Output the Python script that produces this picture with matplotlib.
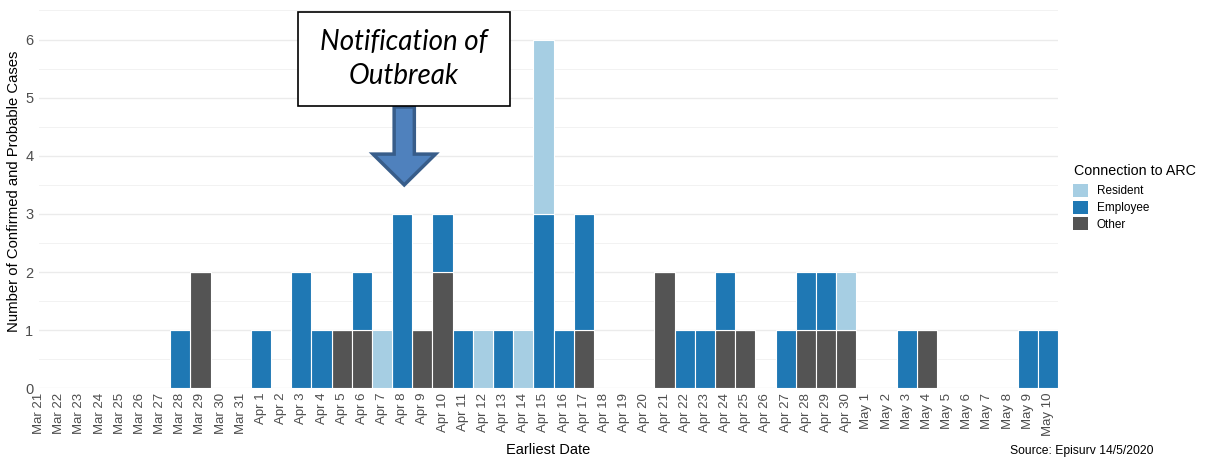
import matplotlib
matplotlib.use("Agg")
import matplotlib.pyplot as plt
from matplotlib.patches import Rectangle, FancyArrow, Patch
import numpy as np

plt.rcParams['font.family'] = ['Liberation Sans', 'DejaVu Sans']

dates = (["Mar %d" % d for d in range(21, 32)] +
         ["Apr %d" % d for d in range(1, 31)] +
         ["May %d" % d for d in range(1, 11)])

other_days = {"Mar 29": 2, "Apr 5": 1, "Apr 6": 1, "Apr 9": 1, "Apr 10": 2, "Apr 17": 1,
              "Apr 21": 2, "Apr 24": 1, "Apr 25": 1, "Apr 28": 1, "Apr 29": 1, "Apr 30": 1,
              "May 4": 1}
employee_days = {"Mar 28": 1, "Apr 1": 1, "Apr 3": 2, "Apr 4": 1, "Apr 6": 1, "Apr 8": 3,
                 "Apr 10": 1, "Apr 11": 1, "Apr 13": 1, "Apr 15": 3, "Apr 16": 1, "Apr 17": 2,
                 "Apr 22": 1, "Apr 23": 1, "Apr 24": 1, "Apr 27": 1, "Apr 28": 1, "Apr 29": 1,
                 "May 3": 1, "May 9": 1, "May 10": 1}
resident_days = {"Apr 7": 1, "Apr 12": 1, "Apr 14": 1, "Apr 15": 3, "Apr 30": 1}

other = np.array([other_days.get(d, 0) for d in dates])
employee = np.array([employee_days.get(d, 0) for d in dates])
resident = np.array([resident_days.get(d, 0) for d in dates])

c_res, c_emp, c_oth = "#a6cee3", "#1f78b4", "#545454"

fig = plt.figure(figsize=(12.07, 4.61), dpi=100)
ax = fig.add_axes([0.0323, 0.1573, 0.8443, 0.8226])
x = np.arange(len(dates))
kw = dict(width=1.0, edgecolor="white", linewidth=0.8, zorder=3)
ax.bar(x, other, color=c_oth, **kw)
ax.bar(x, employee, bottom=other, color=c_emp, **kw)
ax.bar(x, resident, bottom=other + employee, color=c_res, **kw)

ax.set_xlim(0.0, len(dates) - 0.5)
ax.set_ylim(0, 6.52)
ax.set_yticks(range(0, 7))
ax.set_yticks(np.arange(0.5, 7, 1.0), minor=True)
ax.grid(axis="y", which="major", color="#ebebeb", lw=1.0, zorder=0)
ax.grid(axis="y", which="minor", color="#f2f2f2", lw=0.7, zorder=0)
ax.set_xticks(x)
ax.set_xticklabels(dates, rotation=90, fontsize=9.5, color="#4d4d4d")
ax.tick_params(axis="both", which="both", length=0, pad=3)
ax.tick_params(axis="y", labelsize=10.5, labelcolor="#4d4d4d", pad=4)
for s in ax.spines.values():
    s.set_visible(False)

ax.set_ylabel("Number of Confirmed and Probable Cases", fontsize=10.7, labelpad=4)
ax.yaxis.set_label_coords(-0.018, 0.52)
fig.text(0.454, 0.008, "Earliest Date", fontsize=10.5, ha="center", va="bottom")
fig.text(0.9553, 0.008, "Source: Episurv 14/5/2020", fontsize=8.7, ha="right", va="bottom")

# annotation box and arrow
ax.add_patch(Rectangle((12.83, 4.85), 10.51, 1.62, facecolor="white", edgecolor="black",
                       lw=1.2, zorder=5))
ax.text(18.09, 5.66, "Notification of\nOutbreak", ha="center", va="center",
        fontsize=20, style="italic", family=["Lato", "DejaVu Sans"], linespacing=1.4, zorder=6)
ax.add_patch(FancyArrow(18.1, 4.84, 0, -(4.84 - 3.5), width=1.0, head_width=3.1,
                        head_length=0.53, length_includes_head=True,
                        facecolor="#4f81bd", edgecolor="#385d8a", lw=2.5, zorder=4))

handles = [Patch(facecolor=c_res, edgecolor="none"),
           Patch(facecolor=c_emp, edgecolor="none"),
           Patch(facecolor=c_oth, edgecolor="none")]
fig.text(1074 / 1207, 1 - 171 / 461, "Connection to ARC", fontsize=10.3,
         ha="left", va="center")
leg = fig.legend(handles, ["Resident", "Employee", "Other"],
                 loc="upper left", bbox_to_anchor=(1073 / 1207, 1 - 184 / 461), frameon=False,
                 fontsize=8.5, handlelength=1.25, handleheight=1.3,
                 handletextpad=0.75, labelspacing=0.28, borderaxespad=0, borderpad=0)

fig.savefig("out.png", dpi=100)
